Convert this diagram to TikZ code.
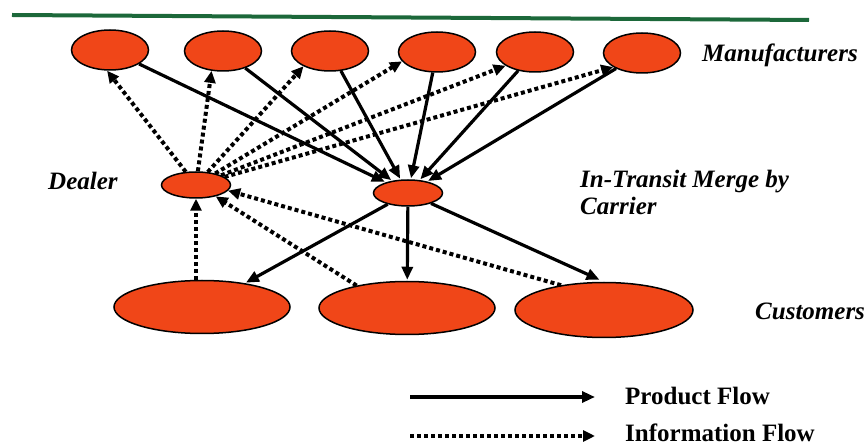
\documentclass[tikz,border=0pt]{standalone}
\usepackage{fontspec}
\setmainfont{Liberation Serif}
\usetikzlibrary{shapes.geometric,arrows.meta}
\definecolor{nodefill}{RGB}{240,70,24}
\definecolor{rulegreen}{RGB}{28,104,58}
\begin{document}
\begin{tikzpicture}[x=1pt,y=-1pt,
  blob/.style={ellipse,draw=black,line width=1.5pt,fill=nodefill,inner sep=0pt},
  mfr/.style={blob,minimum width=77pt,minimum height=40pt},
  hub/.style={blob,minimum width=69pt,minimum height=26pt},
  cust/.style={blob,minimum width=176pt,minimum height=53pt},
  prod/.style={line width=3.2pt,-{Triangle[length=13pt,width=11pt]},shorten >=1pt},
  info/.style={line width=4pt,dash pattern=on 4pt off 3pt,-{Triangle[length=12pt,width=11pt]}},
  lbl/.style={font=\fontsize{25}{27}\selectfont\bfseries\itshape,anchor=base west,inner sep=0pt,align=left},
  leg/.style={font=\fontsize{25}{27}\selectfont\bfseries,anchor=base west,inner sep=0pt}]
\useasboundingbox (0,0) rectangle (868,446);
% top rule
\coordinate (gl) at (12,15);
\coordinate (gr) at (809,20);
\draw[rulegreen,line width=4pt] (gl) -- (gr);
% manufacturers
\node[mfr] (m1) at (110,50) {};
\node[mfr] (m2) at (223,51) {};
\node[mfr] (m3) at (330,51) {};
\node[mfr] (m4) at (437,52) {};
\node[mfr] (m5) at (535,52) {};
\node[mfr] (m6) at (642,53) {};
% dealer and merge
\node[hub] (dealer) at (196,185) {};
\node[hub] (merge) at (408,193) {};
% customers
\node[cust] (c1) at (202,307) {};
\node[cust] (c2) at (407,308) {};
\node[cust,minimum width=178pt,minimum height=55pt] (c3) at (604,310) {};
% labels
\node[lbl] (lman) at (702,62) {Manufacturers};
\node[lbl] (ldeal) at (48,190) {Dealer};
\node[lbl] (lmerge) at (580,188) {In-Transit Merge by};
\node[lbl] (lcarr) at (580,215) {Carrier};
\node[lbl] (lcust) at (755,320) {Customers};
% product flow
\draw[prod] (m1) -- (merge);
\draw[prod] (m2) -- (merge);
\draw[prod] (m3) -- (merge);
\draw[prod] (m4) -- (merge);
\draw[prod] (m5) -- (merge);
\draw[prod] (m6) -- (merge);
\draw[prod] (merge) -- (c1);
\draw[prod] (merge) -- (c2);
\draw[prod,shorten >=5pt] (merge) -- (c3.north);
% information flow
\draw[info] (dealer) -- (m1.262);
\draw[info] (dealer) -- (m2.240);
\draw[info] (dealer) -- (m3.210);
\draw[info] (dealer) -- (m4.195);
\draw[info] (dealer) -- (m5.205);
\draw[info] (dealer) -- (m6.206);
\draw[info] (dealer.south |- c1.north) -- (dealer.south);
\draw[info] (c2.156) -- (dealer.-30);
\draw[info] (c3.150) -- (dealer.-10);
% legend
\coordinate (ps) at (410,397);
\coordinate (pe) at (595,397);
\coordinate (is) at (410,436);
\coordinate (ie) at (595,436);
\draw[prod,shorten >=0pt] (ps) -- (pe);
\draw[info] (is) -- (ie);
\node[leg] (lprod) at (625,405) {Product Flow};
\node[leg] (linfo) at (625,441) {Information Flow};
\end{tikzpicture}
\end{document}
